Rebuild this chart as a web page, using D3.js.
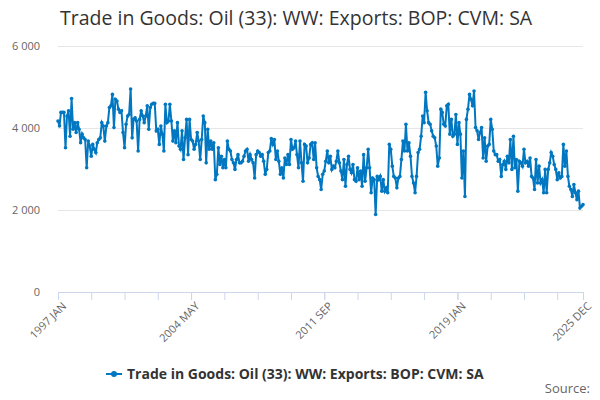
<!DOCTYPE html>
<html><head><meta charset="utf-8">
<script src="https://cdn.jsdelivr.net/npm/d3@7"></script>
<style>body{margin:0;font-family:"Open Sans",sans-serif;}</style>
</head><body>
<svg id="c" width="600" height="400"></svg>
<script>
// monthly values from 1997 JAN to 2025 DEC, split into stretches
const startYear = 1997;
const values1997 = [4170,4050,4380,4380,4380,3520,4290,4420,3800,4720,3970,4130,3890,4130,3970,3640,3850,3760,3720,3030,3680,3560,3310,3600,3480,3400,3640,3720,3760,4130,4050,3680,4050,4130,4500,4540,4820,4010,4700,4660,4460,4380,4420,3890,3520,4090,4290,4330,4950,3760,4210,4250,4170,3440,4210,4420,4290,4130,4290,4540,3970,4500,4580,4600,4600,3930];
const values2002 = [3970,3600,4050,3850,3440,4580,4130,4170,4580,4170,3680,3930,3640,4130,3560,3480,3930,3230,3760,4210,3350,4210,3720,3680,3480,3600,3890,3680,3230,3720,4290,4130,3150,3970,3480,3680,3480,3640,2740,2870,3520,3110,3310,3030,3230,3030,3680,3480,3440,3230,3150,2990,3230,3350,3150,3150,3190,3310,3440,3480,3190,3350,3230,3150,2780,3350,3440,3400,3310];
const values2008 = [3350,3190,2870,2990,3400,3440,3740,3600,3720,3230,3440,3190,2870,3030,2780,3270,3110,3350,3110,3720,3480,3520,3680,3350,3030,3680,3150,2700,3600,3560,3150,3270,3600,3640,3230,3640,3030,2820,2740,2500,2870,2950,3190,3440,3150,3310,2990,3070,3030,3190,3440,3150,2950,2740,3230,2580,3110,3310,2990,2910,3110,2740,2700,3030,2740];
const values2013 = [2950,2580,3350,2700,3030,3480,3030,2420,2780,2740,1890,2820,2740,2820,2460,2740,2460,2540,2420,3600,3480,3070,2820,2780,2540,2780,2820,3230,3680,3440,4090,3440,3640,3310,2820,2660,2420,2820,3400,3480,3800,4290,4130,4870,4420,4130,4090,3930,3800,3760,3560,3070,3270,4460,4380,4090,4050,4540,4580,3850,4210,3800,3850,4330,3600];
const values2019 = [4130,3850,2780,3440,2330,4210,4460,4820,4700,4540,4900,4010,3930,3720,3890,4010,3270,3760,3190,3560,3600,4210,3970,3440,3350,3350,3190,3230,2820,3110,3190,2990,3310,3150,3720,2990,3800,3030,3230,2460,3190,3150,3070,3480,3150,3190,3070,3270,2820,2780,2500,3230,2660,3070,2660,2740,2420,2990,2420,2990,3150,3400,3310,3110,2990,2740,2910,2780,2820,3600,3070,3440,2820,2580,2500,2330,2620,2420,2250,2460,2050,2090,2130];
const xTickLabels = ["1997 JAN","2004 MAY","2011 SEP","2019 JAN","2025 DEC"];
const yTicks = [0,2000,4000,6000];
const seriesName = "Trade in Goods: Oil (33): WW: Exports: BOP: CVM: SA";

const values = [...values1997, ...values2002, ...values2008, ...values2013, ...values2019];
const data = values.map((v, i) => ({d: new Date(startYear, i, 1), v}));
const months = ["JAN","FEB","MAR","APR","MAY","JUN","JUL","AUG","SEP","OCT","NOV","DEC"];
const tickDates = xTickLabels.map(s => { const [y, m] = s.split(" "); return new Date(+y, months.indexOf(m), 1); });
// minor ticks every 22 months between the labelled ones
const minorDates = d3.range(0, values.length, 22).map(i => new Date(startYear, i, 1));

const svg = d3.select("#c");
const m = {l: 58, r: 17, t: 46, b: 108};
const W = 600, H = 400;
const x = d3.scaleTime().domain(d3.extent(data, d => d.d)).range([m.l, W - m.r]);
const y = d3.scaleLinear().domain([0, 6000]).range([H - m.b, m.t]);
const fmt = v => d3.format(",")(v).replace(",", " ");

svg.append("text").attr("x", 60).attr("y", 25).attr("font-size", 19.5).attr("fill", "#333").text(seriesName);

const ya = svg.append("g").attr("transform", `translate(${m.l},0)`)
  .call(d3.axisLeft(y).tickValues(yTicks).tickSize(-(W - m.l - m.r)).tickFormat(fmt).tickPadding(18));
ya.select(".domain").remove();
ya.selectAll("line").attr("stroke", "#e6e6e6");
ya.selectAll("text").attr("fill", "#666").attr("font-size", 11).attr("font-family", "Open Sans, sans-serif");

const xm = svg.append("g").attr("transform", `translate(0,${H - m.b})`)
  .call(d3.axisBottom(x).tickValues(minorDates).tickFormat("").tickSize(8));
xm.select(".domain").attr("stroke", "#ccd6eb");
xm.selectAll("line").attr("stroke", "#ccd6eb");

const xa = svg.append("g").attr("transform", `translate(0,${H - m.b})`)
  .call(d3.axisBottom(x).tickValues(tickDates).tickFormat((d, i) => xTickLabels[i]).tickSize(8));
xa.select(".domain").attr("stroke", "#ccd6eb");
xa.selectAll("line").attr("stroke", "#ccd6eb");
xa.selectAll("text").attr("fill", "#666").attr("font-size", 11).attr("font-family", "Open Sans, sans-serif")
  .attr("text-anchor", "end").attr("transform", "rotate(-45)").attr("dx", "-0.4em").attr("dy", "0.5em");

svg.append("path").datum(data).attr("fill", "none").attr("stroke", "#0077c0").attr("stroke-width", 2)
  .attr("d", d3.line().x(d => x(d.d)).y(d => y(d.v)));
svg.append("g").selectAll("circle").data(data).join("circle")
  .attr("cx", d => x(d.d)).attr("cy", d => y(d.v)).attr("r", 1.8).attr("fill", "#0077c0");

const lg = svg.append("g").attr("transform", "translate(106,374)");
lg.append("line").attr("x1", 0).attr("x2", 16).attr("stroke", "#0077c0").attr("stroke-width", 2);
lg.append("circle").attr("cx", 8).attr("r", 3).attr("fill", "#0077c0");
lg.append("text").attr("x", 21).attr("dy", "0.35em").attr("font-size", 14).attr("font-weight", "bold").attr("fill", "#333").text(seriesName);

svg.append("text").attr("x", 590).attr("y", 393).attr("text-anchor", "end").attr("font-size", 13).attr("fill", "#666").text("Source:");
</script>
</body></html>
